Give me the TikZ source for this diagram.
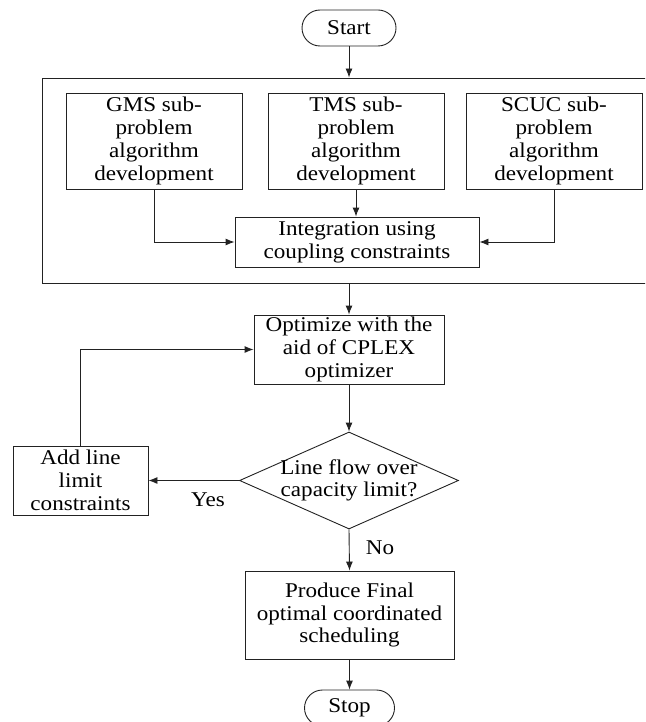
\documentclass[tikz,border=0pt]{standalone}
\usepackage{fontspec}
\setmainfont[FakeStretch=1.1]{Liberation Serif}
\usetikzlibrary{shapes.geometric, arrows.meta}
\definecolor{myLine}{HTML}{222222}

\begin{document}
\begin{tikzpicture}[x=1pt, y=-1pt, >={Latex[length=9pt,width=7pt]}, line width=0.9pt, myLine,
    font=\fontsize{21}{22.7}\selectfont]
  \tikzstyle{B}=[draw, rectangle, align=center, text=black, inner sep=1pt]
  \tikzstyle{T}=[draw, rectangle, rounded corners=18pt, minimum width=94pt, minimum height=36pt, text=black]
  \tikzstyle{D}=[draw, diamond, minimum width=219pt, minimum height=97pt, inner sep=0pt]
  \tikzstyle{L}=[text=black]

  \clip (0,0) rectangle (645,722);

  \node[T] at (349,28) (start) {Start};

  \node[B, minimum width=618pt, minimum height=205pt] at (351,180.5) (frame) {};
  \node[B, minimum width=176pt, minimum height=96pt] at (154,141) (gms) {GMS sub-\\problem\\algorithm\\development};
  \node[B, minimum width=176pt, minimum height=96pt] at (356,141) (tms) {TMS sub-\\problem\\algorithm\\development};
  \node[B, minimum width=176pt, minimum height=96pt] at (554,141) (scuc) {SCUC sub-\\problem\\algorithm\\development};
  \node[B, minimum width=244pt, minimum height=50pt] at (357,242) (integ) {Integration using\\coupling constraints};

  \node[B, minimum width=190pt, minimum height=69pt] at (349,349.5) (opt) {Optimize with the\\aid of CPLEX\\optimizer};
  \node[D, label={[L, align=center]center:Line flow over\\capacity limit?}] at (349,480.5) (dec) {};
  \node[B, minimum width=135pt, minimum height=69pt] at (80.5,480.5) (add) {Add line\\limit\\constraints};
  \node[B, minimum width=209pt, minimum height=88pt] at (349.5,615) (prod) {Produce Final\\optimal coordinated\\scheduling};
  \node[T, minimum width=90pt] at (349.5,708) (stop) {Stop};

  \node[L] at (208,500) (yes) {Yes};
  \node[L] at (380,548) (no) {No};

  \draw [->] (start) to (start.south |- frame.north);
  \draw [->] (gms.south) |- (integ.west);
  \draw [->] (tms.south) to (tms.south |- integ.north);
  \draw [->] (scuc.south) |- (integ.east);
  \draw [->] (opt.north |- frame.south) to (opt.north);
  \draw [->] (opt) to (dec);
  \draw [->] (dec.west) to (add.east);
  \draw [->] (add.north) |- (opt.west);
  \draw [->] (dec.south) to (prod.north);
  \draw [->] (prod) to (stop);

\end{tikzpicture}
\end{document}
